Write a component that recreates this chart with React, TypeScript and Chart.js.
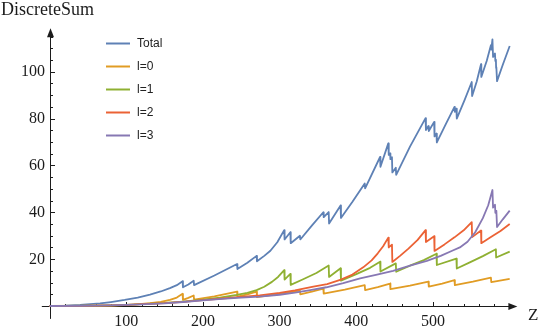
import React, { useEffect, useRef } from "react";
import { Chart, registerables } from "chart.js";

Chart.register(...registerables);

// ---------- data ----------
const seriesLabels = ["Total", "l=0", "l=1", "l=2", "l=3"];
const seriesColors = ["#5E81B5", "#E19C24", "#8FB032", "#EB6235", "#8778B3"];

const totalZ = [0, 20, 40, 66, 80, 98, 115, 131, 145, 157, 166, 173.5, 174, 181, 188, 188.5, 215, 244.5, 245, 258, 270, 270.5, 280, 288, 297, 306, 306.5, 314, 314.5, 326.5, 327, 342, 357, 357.5, 364, 364.5, 379.5, 380, 395, 411, 411.5, 431, 431.5, 441.7, 442.3, 444, 444.5, 446.5, 447, 451.5, 452, 470, 490.3, 490.8, 494, 494.5, 501.5, 502, 504.5, 505, 517, 528, 528.5, 530.5, 531, 541, 550.5, 551, 557, 562.6, 563, 570, 575.5, 576, 577.5, 578.3, 580.8, 581.3, 582, 582.3, 582.6, 583.5, 591, 600];
const totalV = [0, 0.15, 0.45, 1.1, 1.7, 2.6, 3.6, 4.9, 6.2, 7.6, 8.9, 10.6, 8.0, 9.2, 10.8, 8.9, 13.0, 17.9, 15.8, 18.5, 21.4, 19.1, 21.4, 23.6, 27.2, 32.4, 28.4, 31.5, 26.8, 30.0, 28.4, 34.3, 40.0, 37.9, 40.1, 35.2, 42.9, 37.6, 44.5, 52.3, 50.2, 63.6, 59.4, 69.4, 64.5, 65.1, 62.7, 63.5, 57.0, 59.0, 56.0, 68.0, 80.2, 75.1, 76.8, 74.7, 78.6, 72.4, 73.6, 69.8, 77.8, 85.0, 82.9, 84.2, 80.0, 87.8, 95.6, 89.6, 95.8, 103.2, 97.8, 104.6, 111.3, 109.4, 113.8, 106.3, 107.8, 104.6, 105.1, 101.6, 101.9, 96.0, 103.0, 111.0];

const l0Z = [0, 60, 90, 110, 131, 145, 157, 166, 173.5, 174, 181, 188, 188.5, 215, 244.5, 245, 258, 270, 270.5, 300, 326.5, 327, 342, 357, 357.5, 385, 411, 411.5, 428, 444, 444.5, 470, 494, 494.5, 512, 528, 528.5, 552, 575.5, 576, 600];
const l0V = [0, 0.1, 0.3, 0.6, 1.2, 1.8, 2.6, 3.6, 5.2, 2.6, 3.5, 4.5, 2.7, 4.1, 6.1, 4.0, 5.0, 6.1, 3.8, 5.2, 6.6, 5.0, 6.1, 7.4, 5.3, 7.0, 8.9, 6.8, 8.1, 9.6, 7.2, 8.7, 10.4, 8.3, 9.6, 11.0, 8.9, 10.4, 12.1, 10.2, 11.6];

const l1Z = [0, 40, 80, 100, 120, 150, 174, 200, 222, 244, 258, 270, 280, 290, 298, 306, 306.5, 314, 314.5, 330, 348, 364, 364.5, 379.5, 380, 400, 418, 431, 431.5, 451.5, 452, 470, 488, 504.5, 505, 530.5, 531, 548, 565, 582, 582.3, 600];
const l1V = [0, 0.05, 0.3, 0.5, 0.8, 1.3, 1.9, 2.7, 3.6, 4.7, 5.6, 6.8, 8.2, 10.3, 12.4, 15.3, 11.3, 13.7, 9.0, 11.3, 14.1, 17.3, 12.4, 16.1, 10.8, 13.6, 16.3, 18.9, 14.7, 18.2, 14.6, 17.2, 19.6, 22.3, 17.5, 20.2, 16.0, 18.6, 21.3, 24.2, 20.7, 23.2];

const l2Z = [0, 40, 80, 100, 120, 150, 174, 200, 225, 250, 274, 300, 320, 344, 362, 380, 395, 409, 420, 428, 435, 441.7, 442.3, 446.5, 447, 457, 468, 480, 490.3, 490.8, 501.5, 502, 515, 528, 540, 550.5, 551, 562.6, 563, 575, 588, 600];
const l2V = [0, 0.05, 0.3, 0.5, 0.8, 1.2, 1.8, 2.5, 3.2, 3.9, 4.5, 5.6, 6.7, 8.3, 9.3, 11.3, 13.4, 16.5, 19.5, 22.5, 25.5, 29.2, 25.0, 26.2, 18.8, 21.4, 24.5, 28.2, 32.4, 27.3, 29.8, 23.5, 26.3, 29.3, 32.3, 35.8, 29.4, 32.2, 26.8, 29.3, 32.0, 35.0];

const l3Z = [0, 40, 80, 100, 120, 150, 174, 200, 225, 250, 274, 300, 320, 340, 361, 383, 405, 427, 448, 470, 492, 510, 525, 535, 545, 555, 565, 572, 577.5, 578.3, 580.8, 581.3, 582.6, 583.5, 591, 600];
const l3V = [0, 0.05, 0.3, 0.45, 0.7, 1.1, 1.7, 2.4, 3.0, 3.6, 4.0, 4.8, 5.7, 6.8, 8.0, 9.8, 11.8, 13.4, 15.0, 17.2, 19.3, 21.4, 23.6, 25.0, 27.4, 31.5, 37.5, 43.0, 49.5, 42.0, 43.2, 39.8, 40.6, 33.7, 37.0, 40.7];

const seriesZ = [totalZ, l0Z, l1Z, l2Z, l3Z];
const seriesV = [totalV, l0V, l1V, l2V, l3V];

const xTickLabels = [100, 200, 300, 400, 500];
const yTickLabels = [20, 40, 60, 80, 100];
const xAxisTitle = "Z";
const yAxisTitle = "DiscreteSum";

// ---------- axes / legend drawing (Mathematica style) ----------
const AXIS_COLOR = "#1c1c1c";

const mmaPlugin = {
  id: "mmaAxes",
  beforeDatasetsDraw(chart: any) {
    const ctx = chart.ctx as CanvasRenderingContext2D;
    const xs = chart.scales.x;
    const ys = chart.scales.y;
    const x0 = Math.round(xs.getPixelForValue(0)) + 0.5;
    const y0 = Math.round(ys.getPixelForValue(0)) + 0.5;
    const xLeft = xs.getPixelForValue(-10);
    const xTip = xs.getPixelForValue(610);
    const yBottom = ys.getPixelForValue(-5.5);
    const yTip = ys.getPixelForValue(118.5);
    ctx.save();
    ctx.strokeStyle = AXIS_COLOR;
    ctx.fillStyle = AXIS_COLOR;
    ctx.lineWidth = 1;
    // x axis
    ctx.beginPath();
    ctx.moveTo(xLeft, y0);
    ctx.lineTo(xTip - 6, y0);
    ctx.stroke();
    ctx.beginPath();
    ctx.moveTo(xTip, y0);
    ctx.lineTo(xTip - 9, y0 - 3.5);
    ctx.lineTo(xTip - 9, y0 + 3.5);
    ctx.closePath();
    ctx.fill();
    // y axis
    ctx.beginPath();
    ctx.moveTo(x0, yBottom);
    ctx.lineTo(x0, yTip + 6);
    ctx.stroke();
    ctx.beginPath();
    ctx.moveTo(x0, yTip);
    ctx.lineTo(x0 - 3.5, yTip + 9);
    ctx.lineTo(x0 + 3.5, yTip + 9);
    ctx.closePath();
    ctx.fill();
    // x ticks
    for (let v = 20; v <= 600; v += 20) {
      const px = Math.round(xs.getPixelForValue(v)) + 0.5;
      const major = xTickLabels.includes(v);
      ctx.beginPath();
      ctx.moveTo(px, y0);
      ctx.lineTo(px, y0 - (major ? 4.5 : 2.5));
      ctx.stroke();
    }
    // y ticks
    for (let v = 5; v <= 115; v += 5) {
      const py = Math.round(ys.getPixelForValue(v)) + 0.5;
      const major = yTickLabels.includes(v);
      ctx.beginPath();
      ctx.moveTo(x0, py);
      ctx.lineTo(x0 + (major ? 4.5 : 2.5), py);
      ctx.stroke();
    }
    // tick labels
    ctx.font = "16px 'Liberation Serif'";
    ctx.textAlign = "center";
    ctx.textBaseline = "alphabetic";
    for (const v of xTickLabels) {
      ctx.fillText(String(v), xs.getPixelForValue(v), 326);
    }
    ctx.textAlign = "right";
    ctx.textBaseline = "middle";
    for (const v of yTickLabels) {
      ctx.fillText(String(v), x0 - 5.5, ys.getPixelForValue(v) + 0.5);
    }
    // axis titles
    ctx.font = "18px 'Liberation Serif'";
    ctx.textAlign = "left";
    ctx.textBaseline = "alphabetic";
    ctx.fillText(yAxisTitle, 1, 15);
    ctx.font = "17px 'Liberation Serif'";
    ctx.fillText(xAxisTitle, 528, 320);
    ctx.restore();
  },
  afterDraw(chart: any) {
    const ctx = chart.ctx as CanvasRenderingContext2D;
    ctx.save();
    ctx.font = "12px 'Liberation Sans'";
    ctx.textAlign = "left";
    ctx.textBaseline = "middle";
    seriesLabels.forEach((lab, i) => {
      const y = 43.5 + i * 23;
      ctx.strokeStyle = seriesColors[i];
      ctx.lineWidth = 2;
      ctx.beginPath();
      ctx.moveTo(106, y);
      ctx.lineTo(130, y);
      ctx.stroke();
      ctx.fillStyle = "#222";
      ctx.fillText(lab, 137, y);
    });
    ctx.restore();
  },
};

export default function App() {
  const canvasRef = useRef<HTMLCanvasElement | null>(null);

  useEffect(() => {
    const canvas = canvasRef.current;
    if (!canvas) return;
    const datasets = seriesLabels.map((label, i) => ({
      label,
      data: seriesZ[i].map((z, k) => ({ x: z, y: seriesV[i][k] })),
      borderColor: seriesColors[i],
      backgroundColor: seriesColors[i],
      borderWidth: 1.8,
      pointRadius: 0,
      tension: 0,
      fill: false,
      clip: false as any,
      order: seriesLabels.length - 1 - i,
      borderJoinStyle: "round" as const,
    }));
    const chart = new Chart(canvas, {
      type: "line",
      data: { datasets },
      options: {
        responsive: false,
        animation: false,
        devicePixelRatio: 1,
        parsing: false as any,
        normalized: true,
        layout: { padding: { left: 41.83, right: 22.63, top: 27.2, bottom: 7.94 } },
        scales: {
          x: { type: "linear", min: -10, max: 610, display: false },
          y: { type: "linear", min: -6, max: 119, display: false },
        },
        plugins: { legend: { display: false }, tooltip: { enabled: false } },
        events: [],
      },
      plugins: [mmaPlugin],
    });
    return () => chart.destroy();
  }, []);

  return (
    <div style={{ position: "fixed", left: 0, top: 0, width: 540, height: 328, background: "#fff" }}>
      <canvas ref={canvasRef} width={540} height={328} style={{ display: "block" }} />
    </div>
  );
}
